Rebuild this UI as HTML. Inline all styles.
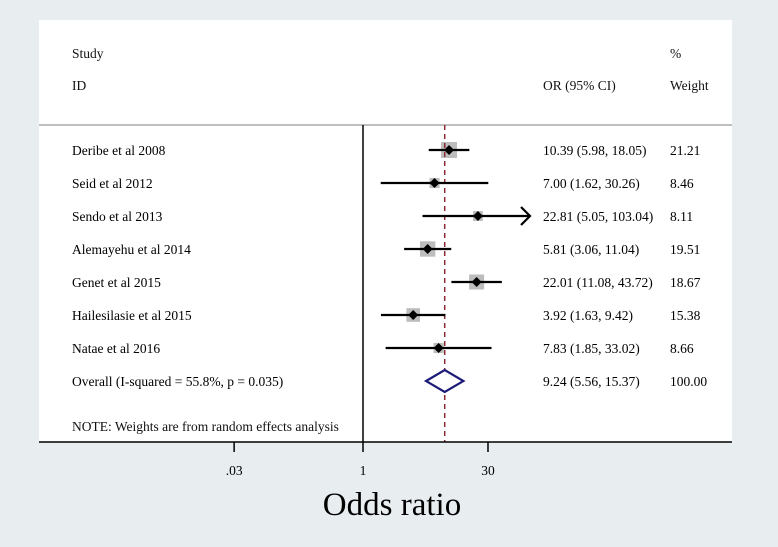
<!DOCTYPE html>
<html><head><meta charset="utf-8"><style>
body{margin:0;background:#e8eef0;}
svg{display:block;font-family:"Liberation Serif",serif;}
</style></head><body>
<svg width="778" height="547">
<rect x="39" y="20" width="693" height="422" fill="#fff"/>
<line x1="39" y1="125" x2="732" y2="125" stroke="#999" stroke-width="1.2"/>
<g font-size="13.5" fill="#111">
<text x="72" y="58">Study</text>
<text x="72" y="90">ID</text>
<text x="543" y="90">OR (95% CI)</text>
<text x="670" y="58">%</text>
<text x="670" y="90">Weight</text>
<text x="72" y="431">NOTE: Weights are from random effects analysis</text>
</g>
<g id="marks"></g>
<line x1="39" y1="442" x2="732" y2="442" stroke="#000" stroke-width="1.5"/>
<text x="392" y="515" font-size="33" text-anchor="middle">Odds ratio</text>
</svg>
<script>
const studies=["Deribe et al 2008","Seid et al 2012","Sendo et al 2013","Alemayehu et al 2014","Genet et al 2015","Hailesilasie et al 2015","Natae et al 2016"];
const orVals=[10.39,7.00,22.81,5.81,22.01,3.92,7.83];
const lowerCI=[5.98,1.62,5.05,3.06,11.08,1.63,1.85];
const upperCI=[18.05,30.26,103.04,11.04,43.72,9.42,33.02];
const weights=[21.21,8.46,8.11,19.51,18.67,15.38,8.66];
const overall=[9.24,5.56,15.37];
const overallLabel="Overall  (I-squared = 55.8%, p = 0.035)";
const tickVals=[0.03,1,30];
const tickLabels=[".03","1","30"];
const ns="http://www.w3.org/2000/svg";
const g=document.getElementById('marks');
const X=v=>363+36.75*Math.log(v);
const clipX=530;
function mk(t,a,p){const e=document.createElementNS(ns,t);for(const k in a)e.setAttribute(k,a[k]);(p||g).appendChild(e);return e;}
const rowY=i=>150+33*i;
const fmt=v=>v.toFixed(2);
let l=mk('line',{x1:363,y1:125,x2:363,y2:442,stroke:'#000','stroke-width':1.5});


studies.forEach((s,i)=>{
  const y=rowY(i);
  const sz=16*Math.sqrt(weights[i]/21.21);
  const b=mk('rect',{x:X(orVals[i])-sz/2,y:y-sz/2,width:sz,height:sz,fill:'#bdbdbd'});
  
  
});
l=mk('line',{x1:X(overall[0]),y1:125,x2:X(overall[0]),y2:442,stroke:'#8b2a35','stroke-width':1.5,'stroke-dasharray':'5,4'});


studies.forEach((s,i)=>{
  const y=rowY(i);
  const hi=Math.min(X(upperCI[i]),clipX);
  const ci=mk('line',{x1:X(lowerCI[i]),y1:y,x2:hi,y2:y,stroke:'#000','stroke-width':2.2});
  
  
  if(X(upperCI[i])>clipX){
    const a=mk('path',{d:`M${clipX-9},${y-9}L${clipX},${y}L${clipX-9},${y+9}`,fill:'none',stroke:'#000','stroke-width':2.2});
    
    
  }
  const c=X(orVals[i]);
  const d=mk('path',{d:`M${c-5},${y}L${c},${y-5}L${c+5},${y}L${c},${y+5}Z`,fill:'#000'});
  
  
  let t=mk('text',{x:72,y:y+5,'font-size':13.5});t.textContent=s;
  
  
  t=mk('text',{x:543,y:y+5,'font-size':13.5});t.textContent=`${fmt(orVals[i])} (${fmt(lowerCI[i])}, ${fmt(upperCI[i])})`;
  
  
  t=mk('text',{x:670,y:y+5,'font-size':13.5});t.textContent=fmt(weights[i]);
  
  
});
const oy=rowY(7);
const dm=mk('path',{d:`M${X(overall[1])},${oy}L${X(overall[0])},${oy-11}L${X(overall[2])},${oy}L${X(overall[0])},${oy+11}Z`,fill:'#fff',stroke:'#1c1c78','stroke-width':2.2});


let t=mk('text',{x:72,y:oy+5,'font-size':13.5});t.textContent=overallLabel;


t=mk('text',{x:543,y:oy+5,'font-size':13.5});t.textContent=`${fmt(overall[0])} (${fmt(overall[1])}, ${fmt(overall[2])})`;


t=mk('text',{x:670,y:oy+5,'font-size':13.5});t.textContent="100.00";


tickVals.forEach((v,i)=>{
  const tk=mk('line',{x1:X(v),y1:442,x2:X(v),y2:452,stroke:'#000','stroke-width':1.5});
  
  
  const tl=mk('text',{x:X(v),y:475,'font-size':13.5,'text-anchor':'middle'});tl.textContent=tickLabels[i];
  
  
});
</script>
</body></html>
